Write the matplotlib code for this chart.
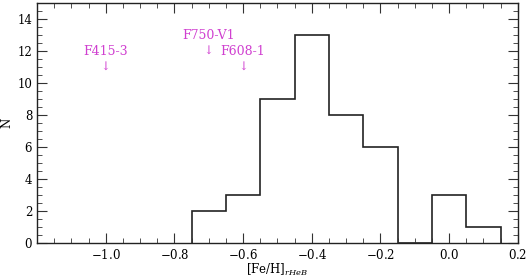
import matplotlib
matplotlib.use("Agg")
import matplotlib.pyplot as plt
from matplotlib.ticker import MultipleLocator

# Data
bin_edges = [-0.75, -0.65, -0.55, -0.45, -0.35, -0.25, -0.15, -0.05, 0.05, 0.15]
counts = [2, 3, 9, 13, 8, 6, 0, 3, 1]
labels = ["F415-3", "F750-V1", "F608-1"]
label_x = [-1.0, -0.7, -0.6]
label_y = [12, 13, 12]

plt.rcParams['font.family'] = ['DejaVu Serif']
plt.rcParams['mathtext.fontset'] = 'dejavuserif'

fig = plt.figure(figsize=(5.3, 2.8), dpi=100)
ax = fig.add_axes([0.0698, 0.132, 0.9072, 0.857])

ax.stairs(counts, bin_edges, color='#222222', linewidth=1.2, baseline=0)

col = '#d040d0'
for t, x, y in zip(labels, label_x, label_y):
    ax.text(x, y, t, color=col, ha='center', va='center', fontsize=9)
    ax.text(x, y - 0.95, '\u2193', color=col, ha='center', va='center', fontsize=8.5)

ax.set_xlim(-1.2, 0.2)
ax.set_ylim(0, 15)
ax.xaxis.set_major_locator(MultipleLocator(0.2))
ax.xaxis.set_minor_locator(MultipleLocator(0.05))
ax.yaxis.set_major_locator(MultipleLocator(2))
ax.yaxis.set_minor_locator(MultipleLocator(0.5))
ax.tick_params(which='both', direction='in', top=True, right=True, labelsize=8.5, color='#333333')
ax.tick_params(which='major', length=7)
ax.tick_params(which='minor', length=3.6)
ax.set_xticks([-1.0, -0.8, -0.6, -0.4, -0.2, 0.0, 0.2])
ax.set_xticklabels(['$-1.0$', '$-0.8$', '$-0.6$', '$-0.4$', '$-0.2$', '$0.0$', '$0.2$'])
for s in ax.spines.values():
    s.set_linewidth(1.0)
    s.set_color('#222222')

ax.set_xlabel('[Fe/H]$_{rHeB}$', fontsize=8.5, labelpad=0)
ax.set_ylabel('N', fontsize=8.5, labelpad=3)

fig.savefig('out.png', dpi=100)
